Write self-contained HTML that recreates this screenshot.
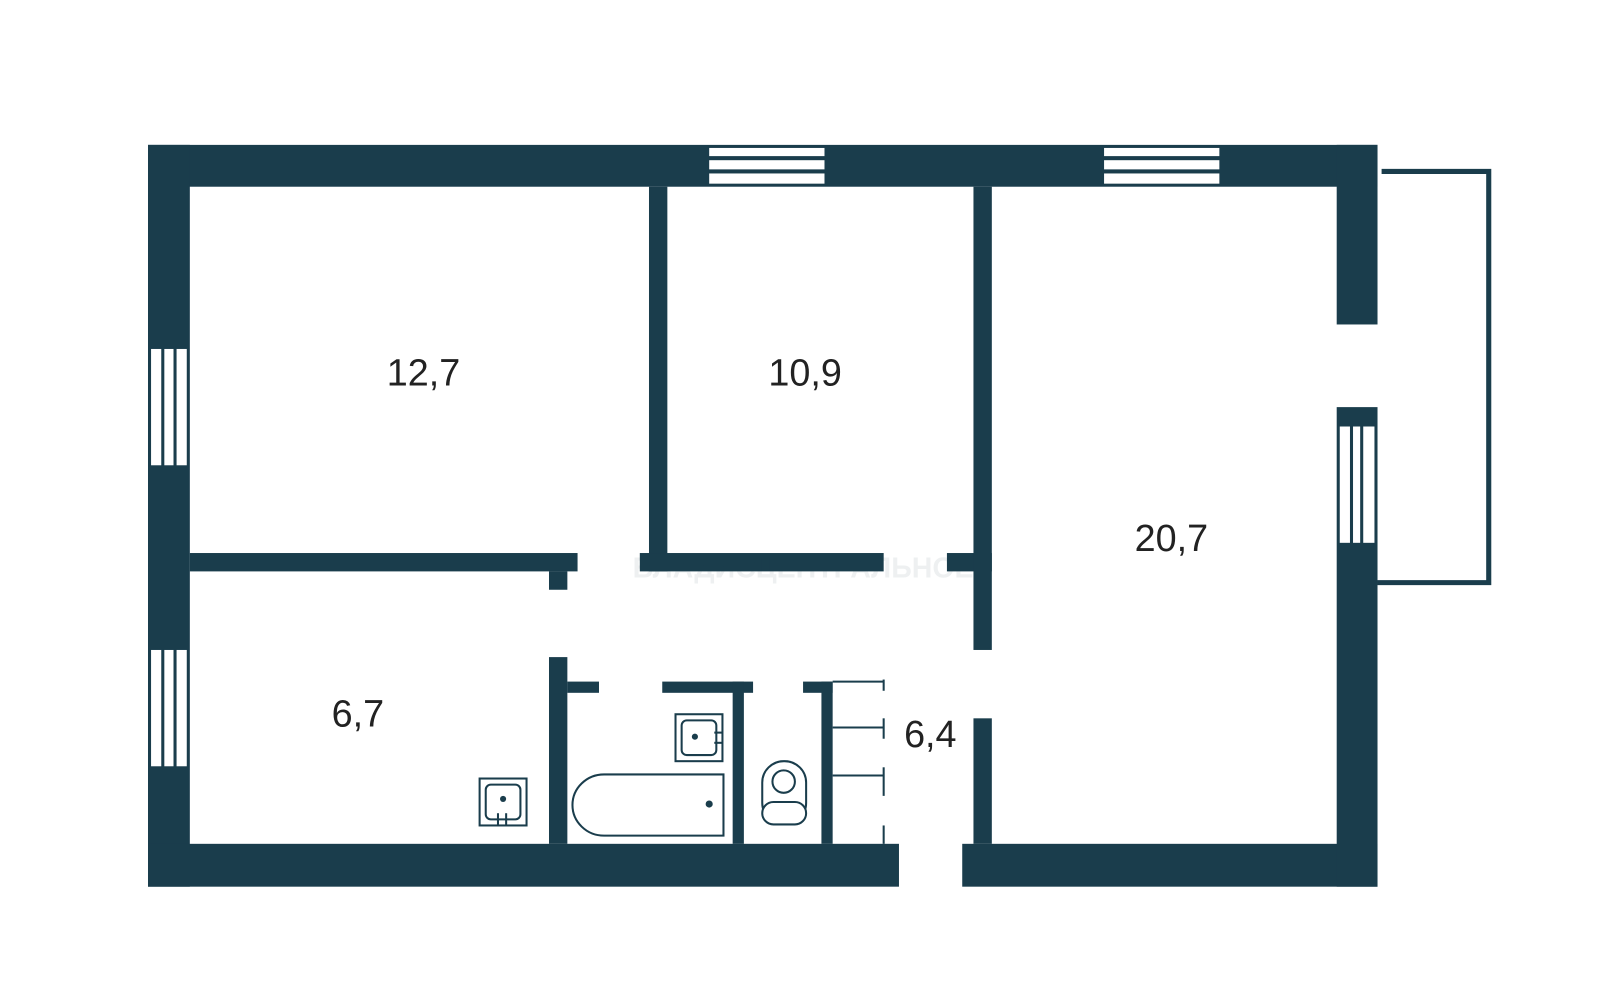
<!DOCTYPE html>
<html><head><meta charset="utf-8"><style>html,body{margin:0;padding:0;background:#fff}svg{display:block}</style></head>
<body>
<svg width="1600" height="1003" viewBox="0 0 1568 983" xmlns="http://www.w3.org/2000/svg">
<g fill="#1a3d4c">
<rect x="145" y="142" width="1205" height="41"/>
<rect x="145" y="142" width="41" height="727"/>
<rect x="145" y="827" width="736" height="42"/>
<rect x="943" y="827" width="407" height="42"/>
<rect x="1310" y="142" width="40" height="176"/>
<rect x="1310" y="399" width="40" height="470"/>
<rect x="636" y="183" width="18" height="377"/>
<rect x="186" y="542" width="380" height="18"/>
<rect x="538" y="560" width="18" height="18"/>
<rect x="627" y="542" width="239" height="18"/>
<rect x="928" y="542" width="44" height="18"/>
<rect x="954" y="183" width="18" height="454"/>
<rect x="954" y="704" width="18" height="123"/>
<rect x="538" y="644" width="18" height="183"/>
<rect x="556" y="668" width="31" height="11"/>
<rect x="649" y="668" width="89" height="11"/>
<rect x="718" y="668" width="11" height="159"/>
<rect x="787" y="668" width="29" height="11"/>
<rect x="805" y="668" width="11" height="159"/>
</g>
<g fill="#fff">
<rect x="695" y="145" width="113" height="8"/><rect x="695" y="157" width="113" height="9"/><rect x="695" y="170" width="113" height="10"/>
<rect x="1082" y="145" width="113" height="8"/><rect x="1082" y="157" width="113" height="9"/><rect x="1082" y="170" width="113" height="10"/>
<rect x="148" y="342" width="10" height="114"/><rect x="161" y="342" width="9" height="114"/><rect x="173" y="342" width="10" height="114"/>
<rect x="148" y="637" width="10" height="114"/><rect x="161" y="637" width="9" height="114"/><rect x="173" y="637" width="10" height="114"/>
<rect x="1313" y="418" width="10" height="114"/><rect x="1326" y="418" width="7" height="114"/><rect x="1336" y="418" width="11" height="114"/>
</g>
<g fill="none" stroke="#1a3d4c">
<polyline points="1354,168 1459,168 1459,571 1350,571" stroke-width="5"/>
<g stroke-width="2">
<line x1="816" y1="668" x2="866" y2="668"/><line x1="816" y1="713" x2="866" y2="713"/><line x1="816" y1="760" x2="866" y2="760"/>
<line x1="866" y1="666" x2="866" y2="677"/><line x1="866" y1="704" x2="866" y2="724"/><line x1="866" y1="752" x2="866" y2="780"/><line x1="866" y1="809" x2="866" y2="827"/>
<rect x="662" y="700" width="46" height="46"/>
<rect x="668" y="706" width="34" height="34" rx="5"/>
<line x1="700" y1="718" x2="708" y2="718"/><line x1="700" y1="728" x2="708" y2="728"/>
<rect x="470" y="763" width="46" height="46"/>
<rect x="476" y="769" width="34" height="34" rx="5"/>
<line x1="488" y1="797" x2="488" y2="809"/><line x1="496" y1="797" x2="496" y2="809"/>
<path d="M709,759 L592,759 A31,30 0 0 0 592,819 L709,819 Z"/>
<rect x="747" y="746" width="43" height="62" rx="21"/>
<circle cx="768" cy="766" r="11"/>
</g>
</g>
<rect x="747" y="786" width="43" height="22" rx="11" fill="#fff" stroke="#1a3d4c" stroke-width="2"/>
<circle cx="681" cy="722" r="3" fill="#1a3d4c"/>
<circle cx="493" cy="783" r="3" fill="#1a3d4c"/>
<circle cx="695" cy="788" r="3.5" fill="#1a3d4c"/>
<text x="620" y="566" font-family="Liberation Sans, sans-serif" font-size="28" font-weight="bold" fill="#1a3d4c" opacity="0.07">ВЛАДИСЦЕНТРАЛЬНОЕ</text>
<g font-family="Liberation Sans, sans-serif" font-size="37" fill="#222">
<text x="379" y="378">12,7</text>
<text x="753" y="378">10,9</text>
<text x="1112" y="540">20,7</text>
<text x="325" y="712">6,7</text>
<text x="886" y="732">6,4</text>
</g>
</svg>
</body></html>
